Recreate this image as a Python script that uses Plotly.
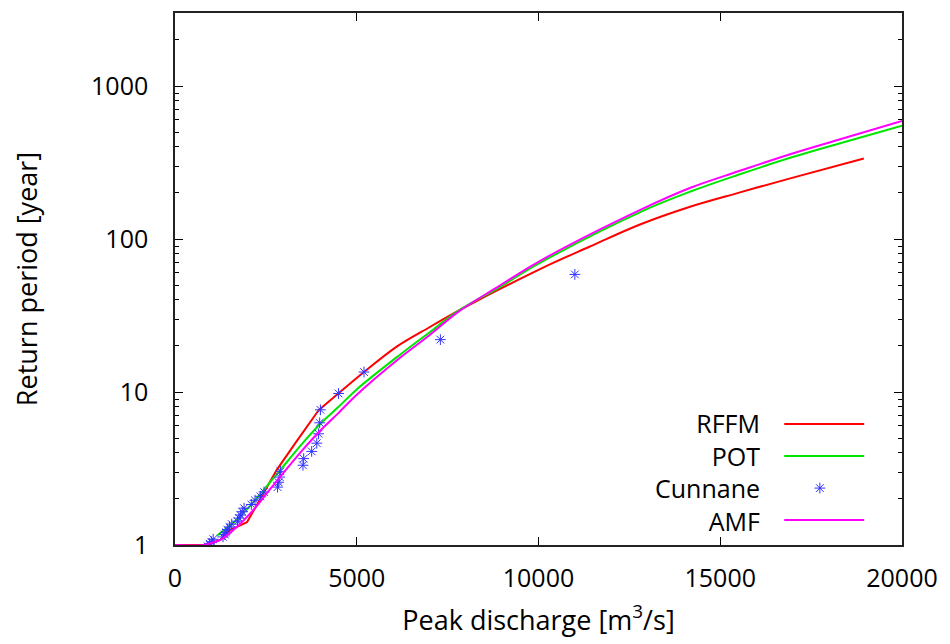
import numpy as np
import plotly.graph_objects as go

# ---- data ----
rffm_q = [0, 850, 1000, 1240, 1510, 1980, 2330, 2800, 3300, 3950, 4500, 5200, 6100, 7000,
          7800, 8400, 9300, 10300, 11400, 12775, 14150, 15520, 16900, 18950]
rffm_t = [1.0, 1.0, 1.03, 1.08, 1.25, 1.41, 1.97, 3.1, 4.6, 7.6, 9.8, 13.5, 19.8, 26.5,
          34.0, 40.5, 52.0, 68.0, 89.0, 124.0, 162.0, 201.0, 248.0, 336.0]

pot_q = [1150, 1700, 2150, 2600, 2900, 3500, 4000, 4500, 5000, 6200, 7000, 7800, 8900, 10000,
         12800, 14200, 15500, 16900, 18300, 20000]
pot_t = [1.15, 1.46, 1.9, 2.55, 3.1, 4.6, 6.2, 8.0, 10.4, 17.6, 24.5, 34.0, 48.0, 69.0,
         150.0, 205.0, 263.0, 338.0, 423.0, 550.0]

amf_q = [0, 800, 1000, 1250, 1700, 2150, 2600, 2900, 3500, 4000, 4500, 5000, 6200, 7000, 7800,
         8900, 10000, 12800, 14200, 15500, 16900, 18300, 20000]
amf_t = [1.0, 1.0, 1.03, 1.08, 1.31, 1.69, 2.29, 2.8, 4.15, 5.6, 7.3, 9.6, 16.8, 23.5, 33.5,
         49.0, 71.0, 155.0, 217.0, 277.0, 357.0, 449.0, 590.0]

cunnane_q = [11000, 7300, 5200, 4500, 4000, 3980, 3950, 3900, 3760, 3540, 3520, 2900, 2880,
             2850, 2820, 2450, 2350, 2200, 2100, 1900, 1850, 1800, 1760, 1720, 1560, 1500,
             1440, 1400, 1370, 1320, 1050, 1000, 950, 900]
cunnane_t = [58.7, 22.0, 13.5, 9.78, 7.65, 6.29, 5.33, 4.63, 4.09, 3.67, 3.32, 3.03, 2.78,
             2.57, 2.39, 2.22, 2.08, 1.96, 1.84, 1.74, 1.65, 1.57, 1.50, 1.43, 1.37, 1.31,
             1.26, 1.21, 1.17, 1.13, 1.09, 1.05, 1.02, 0.98]

legend_names = ["RFFM", "POT", "Cunnane", "AMF"]
x_ticks = [0, 5000, 10000, 15000, 20000]
y_ticks = [1, 10, 100, 1000]

RED = "#ff0000"
GREEN = "#00e600"
BLUE = "#3333ff"
MAGENTA = "#ff00ff"
FONT = "Open Sans"

# RFFM has sharp corners below ~4000 m3/s and a smooth curve above
KINK = rffm_q.index(3950)

fig = go.Figure()
fig.add_trace(go.Scatter(x=rffm_q[:KINK + 1], y=rffm_t[:KINK + 1], mode="lines", name="RFFM",
                         line=dict(color=RED, width=2), showlegend=False))
fig.add_trace(go.Scatter(x=rffm_q[KINK:], y=rffm_t[KINK:], mode="lines", name="RFFM",
                         line=dict(color=RED, width=2, shape="spline", smoothing=1.0),
                         showlegend=False))
fig.add_trace(go.Scatter(x=pot_q, y=pot_t, mode="lines", name="POT",
                         line=dict(color=GREEN, width=2, shape="spline"), showlegend=False))
fig.add_trace(go.Scatter(x=cunnane_q, y=cunnane_t, mode="markers", name="Cunnane",
                         marker=dict(symbol="asterisk-open", size=9, color=BLUE,
                                     line=dict(color=BLUE, width=1)), showlegend=False))
fig.add_trace(go.Scatter(x=amf_q, y=amf_t, mode="lines", name="AMF",
                         line=dict(color=MAGENTA, width=2, shape="spline"), showlegend=False))

# ---- custom legend (text on the left, sample on the right) ----
leg_y = [0.2274, 0.1673, 0.107, 0.047]
leg_colors = [RED, GREEN, None, MAGENTA]
fig.add_annotation(xref="paper", yref="paper", x=0.807, y=sum(leg_y) / len(leg_y),
                   text="<br>".join(legend_names), align="right",
                   showarrow=False, xanchor="right", yanchor="middle",
                   font=dict(family=FONT, size=25, color="black"))
for yy, col in zip(leg_y, leg_colors):
    if col is not None:
        fig.add_shape(type="line", xref="paper", yref="paper", x0=0.838, x1=0.948,
                      y0=yy, y1=yy, line=dict(color=col, width=2))
fig.add_trace(go.Scatter(x=[0.887], y=[leg_y[2]], xaxis="x2", yaxis="y2", mode="markers",
                         marker=dict(symbol="asterisk-open", size=9, color=BLUE,
                                     line=dict(color=BLUE, width=1)),
                         showlegend=False, hoverinfo="skip"))

minor_vals = [m * 10 ** d for d in range(0, 4) for m in range(2, 10) if m * 10 ** d <= 3000]

fig.update_layout(
    width=950, height=644,
    margin=dict(l=167, r=56, t=5, b=107),
    paper_bgcolor="white", plot_bgcolor="white",
    font=dict(family=FONT, size=25, color="black"),
    showlegend=False,
    xaxis=dict(range=[0, 20000], tickvals=x_ticks, ticktext=[str(v) for v in x_ticks],
               ticks="inside", ticklen=8, tickwidth=1, tickcolor="black",
               showline=True, linecolor="#222", linewidth=1.5, mirror="ticks",
               showgrid=False, zeroline=False, ticklabelstandoff=10, automargin=False,
               title=dict(text="Peak discharge [m<sup>3</sup>/s]", font=dict(size=27), standoff=18)),
    yaxis=dict(type="log", range=[0, np.log10(3000)], tickvals=y_ticks,
               ticktext=[str(v) for v in y_ticks],
               ticks="inside", ticklen=8, tickwidth=1, tickcolor="black",
               minor=dict(tickvals=minor_vals, ticks="inside", ticklen=4, tickcolor="black",
                          showgrid=False),
               showline=True, linecolor="#222", linewidth=1.5, mirror="ticks",
               showgrid=False, zeroline=False, ticklabelstandoff=20, automargin=False,
               title=dict(text="Return period [year]", font=dict(size=27), standoff=55)),
    xaxis2=dict(overlaying="x", range=[0, 1], visible=False),
    yaxis2=dict(overlaying="y", range=[0, 1], visible=False),
)

fig.write_html("out.html")
